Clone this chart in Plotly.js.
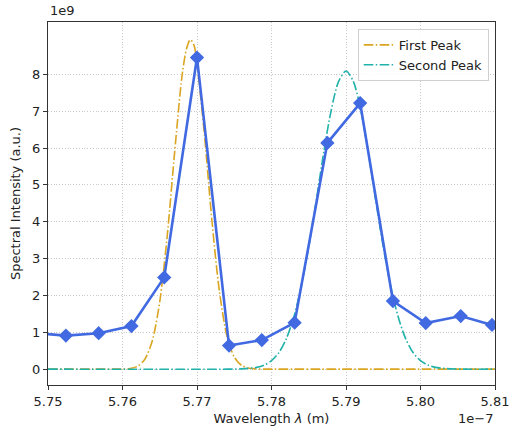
<!DOCTYPE html>
<html>
<head>
<meta charset="utf-8">
<script src="https://cdn.plot.ly/plotly-3.0.1.min.js"></script>
<style>html,body{margin:0;padding:0;background:#fff;}#chart{width:513px;height:429px;}</style>
</head>
<body>
<div id="chart"></div>
<script>
// Wavelength in units of 1e-7 m, intensity in units of 1e9 (a.u.)
const measuredWavelength = [5.7480, 5.7524, 5.7568, 5.7612, 5.7656, 5.7700, 5.7743, 5.7787, 5.7831, 5.7875, 5.7919, 5.7963, 5.8007, 5.8054, 5.8096];
const measuredIntensity  = [0.985, 0.91, 0.975, 1.17, 2.49, 8.455, 0.64, 0.79, 1.26, 6.14, 7.22, 1.85, 1.25, 1.44, 1.20];

const firstPeakWavelength = [5.7500, 5.7560, 5.7590, 5.7600, 5.7610, 5.7620, 5.7630, 5.7640, 5.7650, 5.7660, 5.7670, 5.7680, 5.7686, 5.7691, 5.7696, 5.7700, 5.7710, 5.7720, 5.7730, 5.7740, 5.7750, 5.7760, 5.7770, 5.7780, 5.7790, 5.7820, 5.8100];
const firstPeakIntensity  = [0, 0, 0, 0.004, 0.018, 0.076, 0.27, 0.77, 1.83, 3.61, 5.89, 7.97, 8.70, 8.94, 8.79, 8.28, 6.36, 4.04, 2.12, 0.92, 0.33, 0.10, 0.024, 0.005, 0, 0, 0];

const secondPeakWavelength = [5.7500, 5.7740, 5.7760, 5.7780, 5.7790, 5.7800, 5.7810, 5.7820, 5.7830, 5.7840, 5.7850, 5.7860, 5.7870, 5.7880, 5.7890, 5.7900, 5.7910, 5.7920, 5.7930, 5.7940, 5.7950, 5.7960, 5.7970, 5.7980, 5.7990, 5.8000, 5.8010, 5.8020, 5.8040, 5.8060, 5.8100];
const secondPeakIntensity  = [0, 0, 0.008, 0.048, 0.11, 0.23, 0.45, 0.83, 1.42, 2.25, 3.32, 4.57, 5.87, 7.01, 7.80, 8.09, 7.80, 7.01, 5.87, 4.57, 3.32, 2.25, 1.42, 0.83, 0.45, 0.23, 0.11, 0.048, 0.008, 0, 0];

const yTicks = [0, 1, 2, 3, 4, 5, 6, 7, 8];
</script>
<script>
const font = "DejaVu Sans, sans-serif";
const txt = "#222";
const dashDot = "9.6px,2.4px,1.5px,2.4px";

const traces = [
  {x: firstPeakWavelength, y: firstPeakIntensity, type: "scatter", mode: "lines",
   name: "First Peak", line: {color: "#DAA520", width: 1.6, dash: dashDot, shape: "spline", smoothing: 0.8}},
  {x: secondPeakWavelength, y: secondPeakIntensity, type: "scatter", mode: "lines",
   name: "Second Peak", line: {color: "#20B2AA", width: 1.6, dash: dashDot, shape: "spline", smoothing: 0.8}},
  {x: measuredWavelength, y: measuredIntensity, type: "scatter", mode: "lines+markers",
   showlegend: false, line: {color: "#4169E1", width: 2.6},
   marker: {symbol: "diamond", size: 11, color: "#4169E1"}}
];

const axisCommon = {
  showline: true, mirror: true, linecolor: "#333", linewidth: 1,
  ticks: "outside", ticklen: 4, tickwidth: 1, tickcolor: "#333",
  showgrid: true, gridcolor: "#bdbdbd", griddash: "1px,1.8px", gridwidth: 0.8,
  zeroline: false, tickfont: {family: font, size: 13, color: txt}
};

const layout = {
  width: 513, height: 429,
  margin: {l: 48, r: 18, t: 22, b: 44},
  paper_bgcolor: "#fff", plot_bgcolor: "#fff",
  font: {family: font, size: 13, color: txt},
  xaxis: Object.assign({}, axisCommon, {
    range: [5.75, 5.81], dtick: 0.01, tick0: 5.75, tickformat: ".2f",
    title: {text: "Wavelength <i>λ</i> (m)", font: {family: font, size: 13, color: txt}, standoff: 6}
  }),
  yaxis: Object.assign({}, axisCommon, {
    range: [-0.43, 9.42], tickmode: "array", tickvals: yTicks, ticktext: yTicks.map(String),
    title: {text: "Spectral Intensity (a.u.)", font: {family: font, size: 13, color: txt}, standoff: 8}
  }),
  showlegend: true,
  legend: {
    x: 0.986, y: 0.981, xanchor: "right", yanchor: "top",
    bgcolor: "rgba(255,255,255,0.85)", bordercolor: "#d0d0d0", borderwidth: 1,
    font: {family: font, size: 13, color: txt}, tracegroupgap: 0, itemwidth: 30
  },
  annotations: [
    {text: "1e9", xref: "paper", yref: "paper", x: 0, y: 1, xanchor: "left", yanchor: "bottom",
     yshift: 2, showarrow: false, font: {family: font, size: 13, color: txt}},
    {text: "1e−7", xref: "paper", yref: "paper", x: 1, y: 0, xanchor: "right", yanchor: "top",
     yshift: -24, showarrow: false, font: {family: font, size: 13, color: txt}}
  ]
};

Plotly.newPlot("chart", traces, layout, {displayModeBar: false, staticPlot: true});
</script>
</body>
</html>
